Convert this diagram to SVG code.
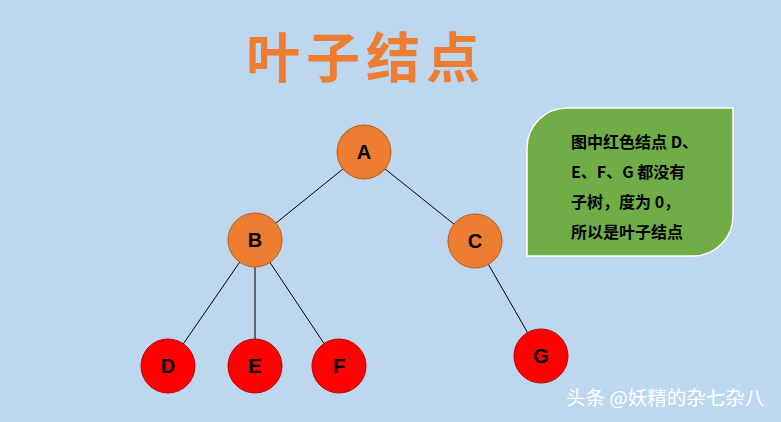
<svg xmlns="http://www.w3.org/2000/svg" width="781" height="422" viewBox="0 0 781 422">
<style>
.o{fill:#ed7d31;stroke:#b85c20}
.r{fill:#ff0000;stroke:#c00000}
.l{font-family:"Liberation Sans","Noto Sans CJK SC",sans-serif;font-weight:bold;font-size:20px;text-anchor:middle;fill:#000}
.t{font-family:"Noto Sans CJK SC",sans-serif;font-weight:bold;font-size:16px;fill:#000}
</style>
<rect width="781" height="422" fill="#bdd7ee"/>
<text x="366" y="78" font-family="Noto Sans CJK SC,sans-serif" font-size="54" font-weight="bold" fill="#ed7d31" text-anchor="middle" letter-spacing="6">叶子结点</text>
<g id="connectors" stroke="#000" stroke-width="1">
<line x1="364" y1="152" x2="255" y2="240"/>
<line x1="364" y1="152" x2="475" y2="241"/>
<line x1="255" y1="240" x2="168" y2="366"/>
<line x1="255" y1="240" x2="255" y2="366"/>
<line x1="255" y1="240" x2="339" y2="366"/>
<line x1="475" y1="241" x2="541" y2="356"/>
</g>
<g id="A"><circle class="o" cx="364" cy="152" r="27"/><text class="l" x="364" y="159">A</text></g>
<g id="B"><circle class="o" cx="255" cy="240" r="27"/><text class="l" x="255" y="247">B</text></g>
<g id="C"><circle class="o" cx="475" cy="241" r="27"/><text class="l" x="475" y="248">C</text></g>
<g id="D"><circle class="r" cx="168" cy="366" r="27"/><text class="l" x="168" y="373">D</text></g>
<g id="E"><circle class="r" cx="255" cy="366" r="27"/><text class="l" x="255" y="373">E</text></g>
<g id="F"><circle class="r" cx="339" cy="366" r="27"/><text class="l" x="339" y="373">F</text></g>
<g id="G"><circle class="r" cx="541" cy="356" r="27"/><text class="l" x="541" y="363">G</text></g>
<g id="note">
<path d="M567 108 H733 V216 A40 40 0 0 1 693 256 H527 V148 A40 40 0 0 1 567 108 Z" fill="#70ad47" stroke="#fff" stroke-width="1.5"/>
<text class="t" x="571" y="148">图中红色结点 D、</text>
<text class="t" x="571" y="178">E、F、G 都没有</text>
<text class="t" x="571" y="208">子树，度为 0，</text>
<text class="t" x="571" y="238">所以是叶子结点</text>
</g>
<text x="566" y="405" font-family="Noto Sans CJK SC,sans-serif" font-size="19.5" fill="#fff">头条 @妖精的杂七杂八</text>
</svg>
